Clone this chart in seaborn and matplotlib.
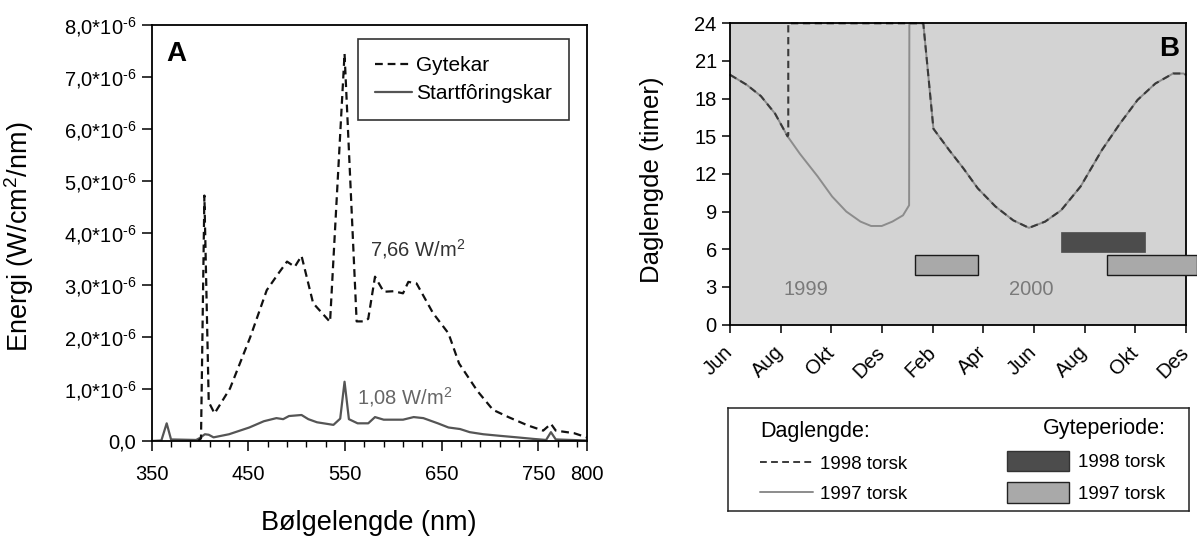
import matplotlib
matplotlib.use('Agg')
import matplotlib.pyplot as plt
import seaborn as sns
import numpy as np
import pandas as pd
from matplotlib.patches import Patch
from matplotlib.lines import Line2D

# ---------------- data: panel A (spectra, values in 1e-6 W/cm2/nm) ----------------
gyte_nm = [398, 401, 404.5, 409, 415, 431, 452, 469, 481, 490, 498, 505, 517, 534.5,
           549.5, 562, 570, 574, 581, 590, 600, 610, 615.5, 624, 641, 657, 668, 687,
           703, 719, 739, 755, 763, 768, 787, 800]
gyte_e = [0.0, 0.05, 4.72, 0.75, 0.53, 1.01, 2.0, 2.9, 3.22, 3.45, 3.35, 3.56, 2.65, 2.29,
          7.45, 2.30, 2.30, 2.35, 3.16, 2.87, 2.88, 2.84, 3.06, 3.03, 2.46, 2.07, 1.49, 0.96,
          0.60, 0.46, 0.30, 0.20, 0.33, 0.20, 0.15, 0.07]

start_nm = [350, 360, 365.5, 370, 396, 400, 405, 409, 414, 430, 451, 466, 479, 486, 492,
            505, 512, 521, 538, 545, 549.5, 554, 563, 574, 581, 590, 610, 621, 631, 646,
            657, 669, 679, 693, 710, 728, 745, 758, 763, 768, 800]
start_e = [0.0, 0.01, 0.34, 0.03, 0.02, 0.06, 0.13, 0.12, 0.07, 0.13, 0.26, 0.38, 0.44,
           0.42, 0.48, 0.50, 0.42, 0.36, 0.31, 0.43, 1.14, 0.42, 0.34, 0.34, 0.46, 0.41,
           0.41, 0.46, 0.44, 0.34, 0.26, 0.23, 0.17, 0.13, 0.10, 0.07, 0.04, 0.02, 0.17,
           0.03, 0.01]

x_ticks_A = [350, 450, 550, 650, 750, 800]
series_A = ['Gytekar', 'Startfôringskar']
energy_labels = ['7,66 W/m$^2$', '1,08 W/m$^2$']

# ---------------- data: panel B (day length, months since June 1999) ----------------
month_labels = ['Jun', 'Aug', 'Okt', 'Des', 'Feb', 'Apr', 'Jun', 'Aug', 'Okt', 'Des']

d1997_m = [0, 0.66, 1.22, 1.78, 2.27, 2.76, 3.46, 4.03, 4.59, 5.15, 5.57, 5.99, 6.41, 6.83,
           7.07, 7.08, 7.63, 8.03, 8.65, 9.21, 9.78, 10.48, 11.18, 11.8, 12.44, 13.07, 13.84,
           14.68, 15.39, 16.09, 16.79, 17.49, 17.9, 18.0]
d1997_h = [19.9, 19.1, 18.2, 16.8, 15.0, 13.6, 11.8, 10.2, 9.0, 8.2, 7.85, 7.85, 8.2, 8.7,
           9.5, 24.0, 24.0, 15.6, 13.9, 12.45, 10.85, 9.4, 8.3, 7.7, 8.2, 9.1, 11.0,
           13.9, 16.0, 17.9, 19.2, 20.0, 20.0, 19.9]

d1998_m = [0, 0.66, 1.22, 1.78, 2.27, 2.30, 2.30, 7.63, 8.03, 8.65, 9.21, 9.78, 10.48, 11.18,
           11.8, 12.44, 13.07, 13.84, 14.68, 15.39, 16.09, 16.79, 17.49, 17.9, 18.0]
d1998_h = [19.9, 19.1, 18.2, 16.8, 15.0, 15.1, 24.0, 24.0, 15.6, 13.9, 12.45, 10.85, 9.4, 8.3,
           7.7, 8.2, 9.1, 11.0, 13.9, 16.0, 17.9, 19.2, 20.0, 20.0, 19.9]

spawn1997_start = [7.30, 14.88]
spawn1997_end = [9.79, 18.45]
spawn1998_start = [13.07]
spawn1998_end = [16.38]
year_labels = ['1999', '2000']
year_pos = [3.0, 11.9]

# ---------------- style ----------------
sns.set_theme(style='ticks')
plt.rcParams['font.family'] = ['Liberation Sans', 'DejaVu Sans']
plt.rcParams['mathtext.fontset'] = 'custom'
plt.rcParams['mathtext.rm'] = 'Liberation Sans'
plt.rcParams['mathtext.it'] = 'Liberation Sans:italic'
plt.rcParams['mathtext.bf'] = 'Liberation Sans:bold'
plt.rcParams['axes.edgecolor'] = 'black'
plt.rcParams['xtick.color'] = 'black'
plt.rcParams['ytick.color'] = 'black'
plt.rcParams['text.color'] = 'black'
plt.rcParams['axes.labelcolor'] = 'black'

W, H = 1197, 538
fig = plt.figure(figsize=(W / 100, H / 100), dpi=100)
fig.patch.set_facecolor('white')

def fr(x0, y0, x1, y1):
    return [x0 / W, 1 - y1 / H, (x1 - x0) / W, (y1 - y0) / H]

axA = fig.add_axes(fr(151.7, 25, 586.7, 441))
axB = fig.add_axes(fr(730, 23.3, 1186, 324.5))
axL = fig.add_axes(fr(728, 408, 1189, 511))

# ---------------- panel A ----------------
dfg = pd.DataFrame({'nm': gyte_nm, 'E': np.array(gyte_e) * 1e-6})
dfs = pd.DataFrame({'nm': start_nm, 'E': np.array(start_e) * 1e-6})
sns.lineplot(data=dfs, x='nm', y='E', ax=axA, color='#555555', lw=1.6,
             sort=False, estimator=None)
sns.lineplot(data=dfg, x='nm', y='E', ax=axA, color='#111111', lw=1.6,
             linestyle='--', sort=False, estimator=None)
axA.lines[-1].set_dashes((3.5, 2.2))

axA.set_xlim(350, 800)
axA.set_ylim(0, 8e-6)
axA.set_xticks(x_ticks_A)
axA.set_xticklabels([str(v) for v in x_ticks_A])
axA.set_xticks(np.arange(350, 800, 20), minor=True)
yt = [k * 1e-6 for k in range(9)]
axA.set_yticks(yt)
axA.set_yticklabels(['0,0'] + [f'{k},0*10$^{{\\text{{-}}6}}$' for k in range(1, 9)])
axA.tick_params(axis='both', which='major', direction='out', length=7, width=1.1,
                labelsize=14.5, pad=4)
axA.tick_params(axis='x', which='minor', direction='out', length=4.5, width=1.0)
axA.tick_params(axis='x', which='major', pad=10)
for s in axA.spines.values():
    s.set_linewidth(1.3)
axA.set_xlabel('Bølgelengde (nm)', fontsize=19.5)
axA.set_ylabel('Energi (W/cm$^2$/nm)', fontsize=19.5)
axA.xaxis.set_label_coords(0.5, -0.165)
axA.yaxis.set_label_coords(-0.265, 0.49)

axA.text(0.034, 0.93, 'A', transform=axA.transAxes, fontsize=20, fontweight='bold',
         va='center', ha='left')
axA.text(576, 3.7e-6, energy_labels[0], fontsize=14.5, color='#333333', va='center')
axA.text(562, 0.85e-6, energy_labels[1], fontsize=14.5, color='#666666', va='center')

hA = [Line2D([], [], color='#111111', lw=1.6, dashes=(3.5, 2.2)),
      Line2D([], [], color='#555555', lw=1.6)]
legA = axA.legend(hA, series_A, loc='upper right', bbox_to_anchor=(0.959, 0.966),
                  frameon=True, fancybox=False, edgecolor='black', fontsize=15,
                  handlelength=1.8, handletextpad=0.2, borderpad=0.8, labelspacing=0.45,
                  borderaxespad=0)
legA.get_frame().set_linewidth(1.2)

# ---------------- panel B ----------------
axB.set_facecolor('#d3d3d3')
df97 = pd.DataFrame({'m': d1997_m, 'h': d1997_h})
df98 = pd.DataFrame({'m': d1998_m, 'h': d1998_h})
sns.lineplot(data=df97, x='m', y='h', ax=axB, color='#8c8c8c', lw=1.4,
             sort=False, estimator=None)
sns.lineplot(data=df98, x='m', y='h', ax=axB, color='#3a3a3a', lw=1.5,
             linestyle='--', sort=False, estimator=None)
axB.lines[-1].set_dashes((3.5, 2.2))
for ln in axB.lines:
    ln.set_clip_on(False)

for s0, s1 in zip(spawn1997_start, spawn1997_end):
    axB.barh(4.74, s1 - s0, left=s0, height=1.6, color='#a9a9a9', edgecolor='#1a1a1a',
             lw=1.0, clip_on=False, zorder=3)
for s0, s1 in zip(spawn1998_start, spawn1998_end):
    axB.barh(6.57, s1 - s0, left=s0, height=1.6, color='#4c4c4c', edgecolor='#4c4c4c',
             lw=0.5, clip_on=False, zorder=3)

for lab, xp in zip(year_labels, year_pos):
    axB.text(xp, 2.75, lab, fontsize=14.5, color='#7a7a7a', ha='center', va='center')
axB.text(0.985, 0.915, 'B', transform=axB.transAxes, fontsize=20, fontweight='bold',
         ha='right', va='center')

axB.set_xlim(0, 18)
axB.set_ylim(0, 24)
axB.set_xticks(range(0, 19, 2))
axB.set_xticklabels(month_labels, rotation=45, ha='right', va='center',
                    rotation_mode='anchor')
axB.set_yticks(range(0, 25, 3))
axB.tick_params(axis='both', direction='out', length=6, width=1.1, labelsize=14.5)
axB.tick_params(axis='x', pad=12)
for s in axB.spines.values():
    s.set_linewidth(1.3)
axB.set_xlabel('')
axB.set_ylabel('Daglengde (timer)', fontsize=18.5)
axB.yaxis.set_label_coords(-0.145, 0.48)

# ---------------- legend box for panel B ----------------
axL.set_xticks([])
axL.set_yticks([])
axL.set_facecolor('white')
for s in axL.spines.values():
    s.set_linewidth(1.1)
    s.set_color('#222222')
h1 = [Line2D([], [], color='#3a3a3a', lw=1.4, dashes=(3.5, 2.2)),
      Line2D([], [], color='#8c8c8c', lw=1.4)]
leg1 = axL.legend(h1, ['1998 torsk', '1997 torsk'], title='Daglengde:', loc='upper left',
                  bbox_to_anchor=(0.07, 0.87), frameon=False, fontsize=13.5,
                  title_fontsize=15.5, alignment='left', handlelength=2.8,
                  handletextpad=0.4, labelspacing=0.7, borderpad=0, borderaxespad=0)
axL.add_artist(leg1)
h2 = [Patch(facecolor='#4c4c4c', edgecolor='#333333'),
      Patch(facecolor='#a9a9a9', edgecolor='#222222')]
leg2 = axL.legend(h2, ['1998 torsk', '1997 torsk'], title='Gyteperiode:', loc='upper left',
                  bbox_to_anchor=(0.605, 0.90), frameon=False, fontsize=13.5,
                  title_fontsize=15.5, alignment='right', handlelength=3.3, handleheight=1.3,
                  handletextpad=0.5, labelspacing=0.6, borderpad=0, borderaxespad=0)

fig.savefig('out.png', dpi=100)
